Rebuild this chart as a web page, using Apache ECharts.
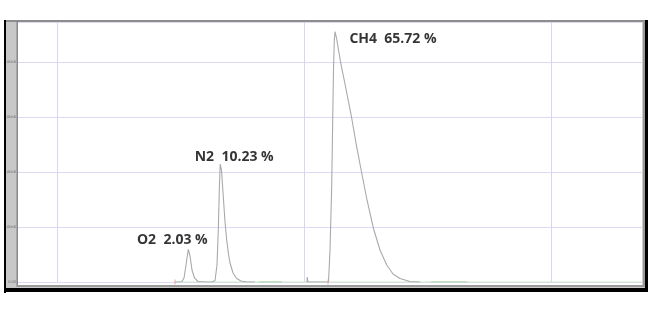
<!DOCTYPE html>
<html><head><meta charset="utf-8">
<script src="https://cdn.jsdelivr.net/npm/echarts@6/dist/echarts.min.js"></script>
<style>html,body{margin:0;padding:0;background:#fff}#c{width:650px;height:310px}</style>
</head><body><div id="c"></div>
<script>
// x: retention time (min), y: detector signal (x1e6)
const xTickValues = [1, 2, 3];
const xTickLabels = ['1.00', '2.00', '3.00'];
const yTickLabels = ['0.00', '1.00e6', '2.00e6', '3.00e6', '4.00e6'];

const o2n2Time = [1.4777, 1.5049, 1.5142, 1.5223, 1.5316, 1.5385, 1.5466, 1.5567, 1.5709, 1.5992, 1.6275, 1.6397, 1.6478, 1.6530, 1.6571, 1.6607, 1.6660, 1.6733, 1.6802, 1.6870, 1.6943, 1.7004, 1.7126, 1.7275, 1.7449, 1.7692, 1.8016];
const o2n2Signal = [0, 0.005, 0.073, 0.309, 0.595, 0.473, 0.218, 0.073, 0.009, 0, 0, 0.027, 0.309, 0.945, 1.673, 2.145, 2.036, 1.545, 1.091, 0.764, 0.509, 0.345, 0.164, 0.064, 0.018, 0, 0];

const ch4Time = [2.0121, 2.0134, 2.0154, 2.0992, 2.1053, 2.1121, 2.1162, 2.1194, 2.1227, 2.1255, 2.1316, 2.1486, 2.1660, 2.1931, 2.2126, 2.2336, 2.2551, 2.2806, 2.3077, 2.3348, 2.3603, 2.3887, 2.4291, 2.4696];
const ch4Signal = [0, 0.091, 0, 0, 0.582, 1.733, 2.945, 3.855, 4.400, 4.551, 4.436, 3.982, 3.600, 2.982, 2.473, 1.982, 1.491, 0.982, 0.582, 0.309, 0.145, 0.064, 0.009, 0];

const baselineTime = [1.4777, 3.3684];
const baselineSignal = [0, 0];
const baselineSegA = [1.8178, 1.9109];
const baselineSegB = [2.5142, 2.6599];
const markerTimes = [1.4777, 2.0972];

const peakNames = ['O2', 'N2', 'CH4'];
const peakPercents = ['2.03 %', '10.23 %', '65.72 %'];
const peakTimes = [1.5316, 1.6607, 2.1255];
const peakHeights = [0.595, 2.145, 4.551];

const X_MIN = 0.8421, X_MAX = 3.3684, Y_MAX = 4.727;
const labelOffsets = [[-16, -9], [14, -7], [58, 7]];

const zip = (a, b) => a.map((v, i) => [v, b[i]]);

const chart = echarts.init(document.getElementById('c'), null, {renderer: 'canvas'});
chart.setOption({
  animation: false,
  backgroundColor: '#ffffff',
  grid: {left: 18, right: 8, top: 22, bottom: 28, containLabel: false},
  xAxis: {
    type: 'value', min: X_MIN, max: X_MAX,
    axisLine: {show: false}, axisTick: {show: false}, splitLine: {show: false},
    axisLabel: {
      customValues: xTickValues, fontSize: 4, color: '#9a9a9a', margin: 6,
      formatter: v => xTickLabels[xTickValues.indexOf(Math.round(v))] || ''
    }
  },
  yAxis: {
    type: 'value', min: 0, max: Y_MAX, interval: 1,
    axisLine: {show: false}, axisTick: {show: false},
    splitLine: {show: true, lineStyle: {color: '#dadaf5', width: 1}},
    axisLabel: {
      fontSize: 4, color: '#6e6e6e', margin: 2, showMaxLabel: false,
      formatter: v => (Math.abs(v - Math.round(v)) < 1e-6 && yTickLabels[Math.round(v)]) || ''
    }
  },
  series: [
    {
      type: 'line', data: zip(baselineTime, baselineSignal), symbol: 'none',
      lineStyle: {color: '#c6ecc0', width: 1}, z: 2,
      markLine: {
        silent: true, symbol: 'none', label: {show: false},
        lineStyle: {color: '#d6d6f4', type: 'solid', width: 1},
        data: xTickValues.map(v => ({xAxis: v}))
      }
    },
    {type: 'line', data: zip(baselineSegA, [0, 0]), symbol: 'none', lineStyle: {color: '#9ccf94', width: 1}, z: 3},
    {type: 'line', data: zip(baselineSegB, [0, 0]), symbol: 'none', lineStyle: {color: '#9ccf94', width: 1}, z: 3},
    {type: 'line', data: zip(o2n2Time, o2n2Signal), symbol: 'none', lineStyle: {color: '#a9a9a9', width: 1.1}, z: 4},
    {type: 'line', data: zip(ch4Time, ch4Signal), symbol: 'none', lineStyle: {color: '#a9a9a9', width: 1.1}, z: 4},
    {type: 'scatter', data: markerTimes.map(t => [t, 0]), symbol: 'rect', symbolSize: [1, 5],
      itemStyle: {color: '#e49a9a'}, z: 5},
    {
      type: 'scatter', z: 6, symbolSize: 0,
      data: peakTimes.map((t, i) => ({
        value: [t, peakHeights[i]],
        label: {
          show: true, position: 'inside', offset: labelOffsets[i],
          formatter: peakNames[i] + '  ' + peakPercents[i]
        }
      })),
      label: {fontFamily: 'Open Sans', fontWeight: 'bold', fontSize: 14, color: '#000'}
    }
  ],
  graphic: [
    {type: 'rect', z: -10, shape: {x: 6, y: 21, width: 11, height: 267}, style: {fill: '#c8c8c8'}},
    {type: 'rect', z: 100, shape: {x: 4, y: 20, width: 2, height: 273}, style: {fill: '#000'}},
    {type: 'rect', z: 100, shape: {x: 4, y: 288, width: 644, height: 4}, style: {fill: '#000'}},
    {type: 'rect', z: 100, shape: {x: 645, y: 20, width: 3, height: 272}, style: {fill: '#000'}},
    {type: 'rect', z: 100, shape: {x: 6, y: 20, width: 639, height: 2}, style: {fill: '#8c8c8c'}},
    {type: 'rect', z: 100, shape: {x: 16.5, y: 21, width: 1.5, height: 266}, style: {fill: '#888'}},
    {type: 'rect', z: 100, shape: {x: 17, y: 285, width: 628, height: 2.5}, style: {fill: '#9a9a9a'}},
    {type: 'rect', z: 100, shape: {x: 642.5, y: 21, width: 2.5, height: 266}, style: {fill: '#9a9a9a'}}
  ]
});
</script></body></html>
